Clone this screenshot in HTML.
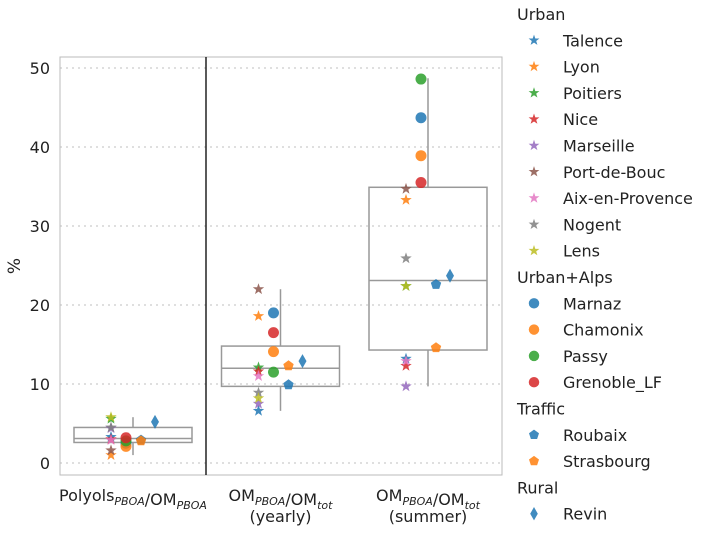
<!DOCTYPE html>
<html><head><meta charset="utf-8"><style>
body{margin:0;background:#fff;font-family:"Liberation Sans","DejaVu Sans",sans-serif}
text{font-family:"DejaVu Sans","Liberation Sans",sans-serif}
</style></head><body>
<svg id="c" width="703" height="532" xmlns="http://www.w3.org/2000/svg"></svg>
<script>
const categories=["Polyols","OMyearly","OMsummer"];
const yTicks=[0,10,20,30,40,50];
const seriesNames=["Talence","Lyon","Poitiers","Nice","Marseille","Port-de-Bouc","Aix-en-Provence","Nogent","Lens","Marnaz","Chamonix","Passy","Grenoble_LF","Roubaix","Strasbourg","Revin"];
const seriesGroup=["Urban","Urban","Urban","Urban","Urban","Urban","Urban","Urban","Urban","Urban+Alps","Urban+Alps","Urban+Alps","Urban+Alps","Traffic","Traffic","Rural"];
const valsPolyols=[3.3,1.0,5.6,3.0,4.4,1.6,2.9,4.5,5.8,2.5,2.1,2.8,3.2,2.9,2.8,5.2];
const valsYearly=[6.6,18.6,12.1,11.6,7.5,22.0,11.0,8.9,8.2,19.0,14.1,11.5,16.5,9.9,12.3,12.9];
const valsSummer=[13.2,33.3,22.4,12.3,9.7,34.7,12.9,25.9,22.4,43.7,38.9,48.6,35.5,22.6,14.6,23.7];
const boxQ1=[2.6,9.7,14.3],boxMed=[3.1,12.0,23.1],boxQ3=[4.5,14.8,34.9],boxLo=[1.0,6.6,9.7],boxHi=[5.8,22.0,48.7];
const colors=["#1f77b4","#ff7f0e","#2ca02c","#d62728","#9467bd","#8c564b","#e377c2","#7f7f7f","#bcbd22","#1f77b4","#ff7f0e","#2ca02c","#d62728","#1f77b4","#ff7f0e","#1f77b4"];
const markerOf={"Urban":"star","Urban+Alps":"circle","Traffic":"pent","Rural":"diam"};
const offOf={"Urban":-22,"Urban+Alps":-7,"Traffic":8,"Rural":22};
const svg=document.getElementById('c');const NS="http://www.w3.org/2000/svg";
function el(t,a,p){const e=document.createElementNS(NS,t);for(const k in a)e.setAttribute(k,a[k]);(p||svg).appendChild(e);return e;}
const L=60,R=502,T=57,B=475;
const y=v=>463-7.9*v;
const x=i=>133+i*147.5;
// grid
yTicks.forEach(v=>{const g=el('line',{x1:L,x2:R,y1:y(v),y2:y(v),stroke:'#ccc','stroke-dasharray':'2,4','stroke-width':1.2});

const t=el('text',{x:50,y:y(v)+6,'text-anchor':'end','font-size':16,fill:'#222'});t.textContent=v;
});
const fr=el('rect',{x:L,y:T,width:R-L,height:B-T,fill:'none',stroke:'#bbb'});

const sep=el('line',{x1:206,x2:206,y1:T,y2:B,stroke:'#000','stroke-width':1.3});

// boxes
categories.forEach((c,i)=>{const g=el('g',{stroke:'#999','stroke-width':1.5,fill:'none'});

el('line',{x1:x(i),x2:x(i),y1:y(boxHi[i]),y2:y(boxQ3[i])},g);
el('line',{x1:x(i),x2:x(i),y1:y(boxQ1[i]),y2:y(boxLo[i])},g);
el('rect',{x:x(i)-59,width:118,y:y(boxQ3[i]),height:y(boxQ1[i])-y(boxQ3[i])},g);
el('line',{x1:x(i)-59,x2:x(i)+59,y1:y(boxMed[i]),y2:y(boxMed[i])},g);});
function marker(type,cx,cy,col,parent,s){s=s||1;let e;
if(type==='circle')e=el('circle',{cx,cy,r:5.5*s},parent);
else if(type==='star'){let p=[];for(let k=0;k<10;k++){const r=(k%2?2.4:6)*s,a=-Math.PI/2+k*Math.PI/5;p.push((cx+r*Math.cos(a)).toFixed(1)+','+(cy+r*Math.sin(a)).toFixed(1));}e=el('polygon',{points:p.join(' ')},parent);}
else if(type==='pent'){let p=[];for(let k=0;k<5;k++){const a=-Math.PI/2+k*2*Math.PI/5;p.push((cx+5.5*s*Math.cos(a)).toFixed(1)+','+(cy+5.5*s*Math.sin(a)).toFixed(1));}e=el('polygon',{points:p.join(' ')},parent);}
else e=el('polygon',{points:`${cx},${cy-7*s} ${cx+4*s},${cy} ${cx},${cy+7*s} ${cx-4*s},${cy}`},parent);
e.setAttribute('fill',col);e.setAttribute('fill-opacity',0.85);return e;}
[valsPolyols,valsYearly,valsSummer].forEach((vals,i)=>{vals.forEach((v,j)=>{
const m=marker(markerOf[seriesGroup[j]],x(i)+offOf[seriesGroup[j]],y(v),colors[j]);
});});
// x labels
function lbl(xx,yy,html,name){const t=el('text',{x:xx,y:yy,'text-anchor':'middle','font-size':16,fill:'#222'});t.innerHTML=html;
}
const sub=s=>`<tspan font-size="11" dy="4" font-style="italic">${s}</tspan><tspan dy="-4"></tspan>`;
lbl(x(0),501,'Polyols'+sub('PBOA')+'/OM'+sub('PBOA'),'x-label-polyols');
lbl(x(1),501,'OM'+sub('PBOA')+'/OM'+sub('tot'),'x-label-yearly');
lbl(x(1),522,'(yearly)','x-label-yearly-sub');
lbl(x(2),501,'OM'+sub('PBOA')+'/OM'+sub('tot'),'x-label-summer');
lbl(x(2),522,'(summer)','x-label-summer-sub');
const yl=el('text',{x:20,y:266,'text-anchor':'middle','font-size':17,fill:'#222',transform:'rotate(-90 20 266)'});yl.textContent='%';

// legend
let ly=14,last=null;
seriesNames.forEach((n,j)=>{const g=seriesGroup[j];
if(g!==last){const t=el('text',{x:517,y:ly+6,'font-size':16,fill:'#222'});t.textContent=g;
ly+=26.3;last=g;}
const lg=el('g',{});
marker(markerOf[g],534,ly,colors[j],lg,0.95);
const t=el('text',{x:563,y:ly+6,'font-size':16,fill:'#222'},lg);t.textContent=n;ly+=26.3;});
</script></body></html>
